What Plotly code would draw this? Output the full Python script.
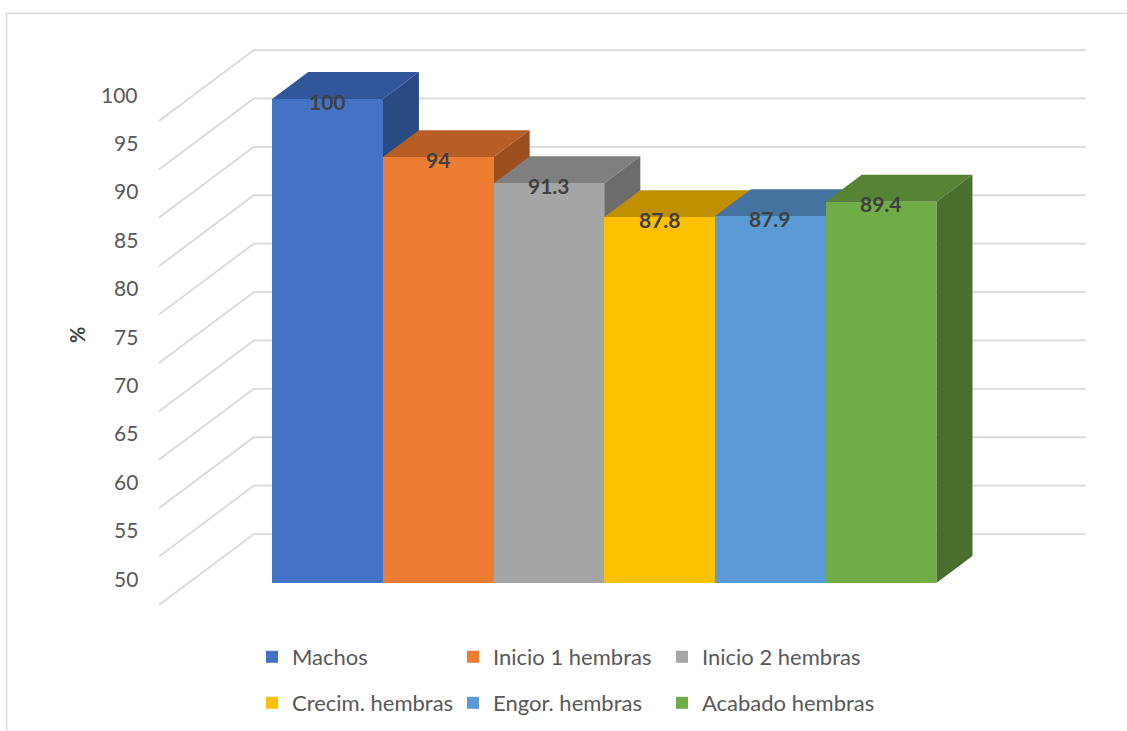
import plotly.graph_objects as go

# ---- data -------------------------------------------------------------
categories = ["Machos", "Inicio 1 hembras", "Inicio 2 hembras",
              "Crecim. hembras", "Engor. hembras", "Acabado hembras"]
values = [100, 94, 91.3, 87.8, 87.9, 89.4]
tick_values = [50, 55, 60, 65, 70, 75, 80, 85, 90, 95, 100]
tick_labels = ["50", "55", "60", "65", "70", "75", "80", "85", "90", "95", "100"]

# ---- styling ----------------------------------------------------------
front_colors = ["#4472C4", "#ED7D31", "#A5A5A5", "#FFC000", "#5B9BD5", "#70AD47"]
top_colors = ["#31579A", "#B65E25", "#7F7F7F", "#BF9000", "#44739F", "#578335"]
side_colors = ["#2A4A84", "#9C4F1C", "#6C6C6C", "#A37B00", "#3B6690", "#4A6F2D"]
FONT = "Lato"
GRID_COLOR = "#D9D9D9"

FLOOR = 50                     # bars start at the floor of the value axis
WALL_DX, WALL_DY = 0.858, 7.33  # oblique projection of the full depth (x units, % units)
FRONT_DEPTH = 0.31             # depth of the bar front plane behind the wall front
BAR_DEPTH = 0.38               # bar thickness as a fraction of the full depth
SIDE_GAP = 0.757               # space between the outer bars and the walls
X_RANGE = [-2.958, 7.222]
Y_RANGE = [34.71, 110.23]
W, H = 1127, 731

# legend grid: text start (px) of each column, centre (px) of each row
LEGEND_COLS = [292, 493, 702]
LEGEND_ROWS = [657, 703]

n = len(categories)
bar_dx, bar_dy = BAR_DEPTH * WALL_DX, BAR_DEPTH * WALL_DY
wall_left = -0.5 - SIDE_GAP
wall_right = n - 0.5 + SIDE_GAP


def path(points):
    return "M " + " L ".join(f"{x},{y}" for x, y in points) + " Z"


fig = go.Figure()
shapes = []

# walls: diagonal lines on the left wall, horizontal lines on the back wall
for t in tick_values:
    front = (wall_left - FRONT_DEPTH * WALL_DX, t - FRONT_DEPTH * WALL_DY)
    back = (wall_left + (1 - FRONT_DEPTH) * WALL_DX, t + (1 - FRONT_DEPTH) * WALL_DY)
    far = (wall_right + (1 - FRONT_DEPTH) * WALL_DX, t + (1 - FRONT_DEPTH) * WALL_DY)
    shapes.append(dict(type="path", xref="x", yref="y", layer="below",
                       path="M {},{} L {},{} L {},{}".format(*front, *back, *far),
                       line=dict(color=GRID_COLOR, width=1.8)))

# top and side faces of the bars, painted left to right
for i, v in enumerate(values):
    left, right = i - 0.5, i + 0.5
    top = [(left, v), (right, v), (right + bar_dx, v + bar_dy), (left + bar_dx, v + bar_dy)]
    side = [(right, FLOOR), (right + bar_dx, FLOOR + bar_dy),
            (right + bar_dx, v + bar_dy), (right, v)]
    shapes.append(dict(type="path", xref="x", yref="y", layer="below",
                       path=path(top), fillcolor=top_colors[i],
                       line=dict(width=0)))
    shapes.append(dict(type="path", xref="x", yref="y", layer="below",
                       path=path(side), fillcolor=side_colors[i],
                       line=dict(width=0)))

# front faces of the bars, each with its own legend entry
legends = {}
for i, (name, v) in enumerate(zip(categories, values)):
    key = "legend" if i == 0 else f"legend{i + 1}"
    row, col = divmod(i, 3)
    legends[key] = dict(
        orientation="h", xanchor="left", yanchor="middle",
        x=(LEGEND_COLS[col] - 40) / W, y=1 - LEGEND_ROWS[row] / H,
        bgcolor="rgba(0,0,0,0)", borderwidth=0,
        font=dict(family=FONT, size=22, color="#595959"))
    fig.add_trace(go.Bar(
        x=[i], y=[v - FLOOR], base=FLOOR, name=name, width=1,
        marker=dict(color=front_colors[i], line=dict(width=0)),
        legend=key,
        hovertemplate=f"{name}: {v:g}<extra></extra>",
    ))

annotations = []
# value labels on top of the bars
for i, v in enumerate(values):
    annotations.append(dict(x=i, y=v, xref="x", yref="y", text=f"{v:g}",
                            showarrow=False, yshift=-2,
                            font=dict(family=FONT, size=21, color="#404040",
                                      weight="bold")))
# value axis labels at the front edge of the left wall
for t, lab in zip(tick_values, tick_labels):
    annotations.append(dict(x=wall_left - FRONT_DEPTH * WALL_DX, y=t,
                            xref="x", yref="y", text=lab, showarrow=False,
                            xanchor="right", xshift=-19, yshift=5,
                            font=dict(family=FONT, size=21, color="#595959")))
# axis title
annotations.append(dict(x=77 / W, y=1 - 335 / H, xref="paper", yref="paper",
                        xanchor="center", yanchor="middle",
                        text="%", textangle=-90, showarrow=False,
                        font=dict(family=FONT, size=20, color="#404040",
                                  weight="bold")))

# chart border
shapes.append(dict(type="rect", xref="paper", yref="paper",
                   x0=6.5 / W, x1=1.02, y0=-0.02, y1=1 - 13.5 / H,
                   line=dict(color=GRID_COLOR, width=1.5)))

fig.update_layout(
    width=W, height=H,
    margin=dict(l=0, r=0, t=0, b=0),
    paper_bgcolor="white", plot_bgcolor="white",
    barmode="overlay", bargap=0,
    showlegend=True,
    xaxis=dict(range=X_RANGE, visible=False, fixedrange=True),
    yaxis=dict(range=Y_RANGE, visible=False, fixedrange=True),
    shapes=shapes,
    annotations=annotations,
    font=dict(family=FONT),
    **legends,
)

fig.write_html("out.html")
